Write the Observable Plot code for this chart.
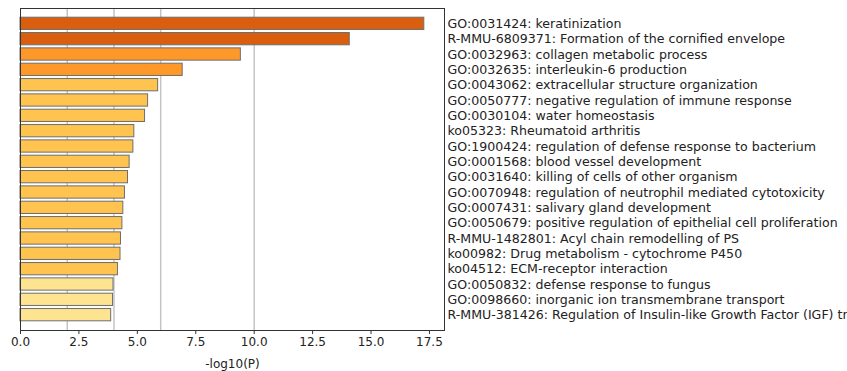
<!DOCTYPE html>
<html>
<head>
<meta charset="utf-8">
<script src="https://cdn.jsdelivr.net/npm/d3@7"></script>
<script src="https://cdn.jsdelivr.net/npm/@observablehq/plot@0.6"></script>
<style>
  html, body { margin: 0; padding: 0; background: #ffffff; overflow: hidden; width: 847px; height: 371px; }
  #chart { width: 847px; height: 371px; overflow: hidden; }
</style>
</head>
<body>
<div id="chart"></div>
<script>
// Enrichment terms (top to bottom)
const terms = [
  "GO:0031424: keratinization",
  "R-MMU-6809371: Formation of the cornified envelope",
  "GO:0032963: collagen metabolic process",
  "GO:0032635: interleukin-6 production",
  "GO:0043062: extracellular structure organization",
  "GO:0050777: negative regulation of immune response",
  "GO:0030104: water homeostasis",
  "ko05323: Rheumatoid arthritis",
  "GO:1900424: regulation of defense response to bacterium",
  "GO:0001568: blood vessel development",
  "GO:0031640: killing of cells of other organism",
  "GO:0070948: regulation of neutrophil mediated cytotoxicity",
  "GO:0007431: salivary gland development",
  "GO:0050679: positive regulation of epithelial cell proliferation",
  "R-MMU-1482801: Acyl chain remodelling of PS",
  "ko00982: Drug metabolism - cytochrome P450",
  "ko04512: ECM-receptor interaction",
  "GO:0050832: defense response to fungus",
  "GO:0098660: inorganic ion transmembrane transport",
  "R-MMU-381426: Regulation of Insulin-like Growth Factor (IGF) transport and uptake by Insulin-like Growth Factor Binding Proteins (IGFBPs)"
];

// -log10(P) values
const logP = [17.28, 14.09, 9.43, 6.94, 5.89, 5.46, 5.33, 4.87, 4.83, 4.67,
              4.60, 4.47, 4.40, 4.36, 4.30, 4.28, 4.17, 3.98, 3.96, 3.88];

// significance thresholds (reference lines and colour bins)
const thresholds = [2, 4, 6, 10];
const binColors = ["#ffffd4", "#fee391", "#fec44f", "#fe9929", "#d95f0e"];

// x-axis tick values
const xTicks = [0, 2.5, 5, 7.5, 10, 12.5, 15, 17.5];

const rows = terms.map((t, i) => ({term: t, value: logP[i]}));
const xMax = d3.max(logP) * 1.05;

const chart = Plot.plot({
  width: 847,
  height: 371,
  marginLeft: 20,
  marginRight: 403,
  marginTop: 8,
  marginBottom: 41,
  style: {fontFamily: "'DejaVu Sans', sans-serif", fontSize: "12px", color: "#222", background: "#ffffff", overflow: "hidden"},
  x: {domain: [0, xMax]},
  y: {domain: terms, paddingInner: 0.2, paddingOuter: 0.6, round: false},
  color: {type: "threshold", domain: thresholds, range: binColors},
  marks: [
    Plot.ruleX(thresholds, {stroke: "#c4c4c4", strokeWidth: 1.5}),
    Plot.barX(rows, {x: "value", y: "term", fill: "value", stroke: "#6e6e6e", strokeWidth: 1}),
    Plot.frame({stroke: "#333", strokeWidth: 1}),
    Plot.axisX({
      ticks: xTicks,
      tickSize: 4,
      tickPadding: 3,
      tickFormat: d3.format(".1f"),
      stroke: "#333",
      fontSize: 12,
      label: "-log10(P)",
      labelAnchor: "center",
      labelArrow: "none",
      labelOffset: 37
    }),
    Plot.axisY({
      anchor: "right",
      tickSize: 0,
      tickPadding: 3,
      fontSize: 12.6,
      textAnchor: "start",
      label: null
    })
  ]
});

document.getElementById("chart").appendChild(chart);
</script>
</body>
</html>
